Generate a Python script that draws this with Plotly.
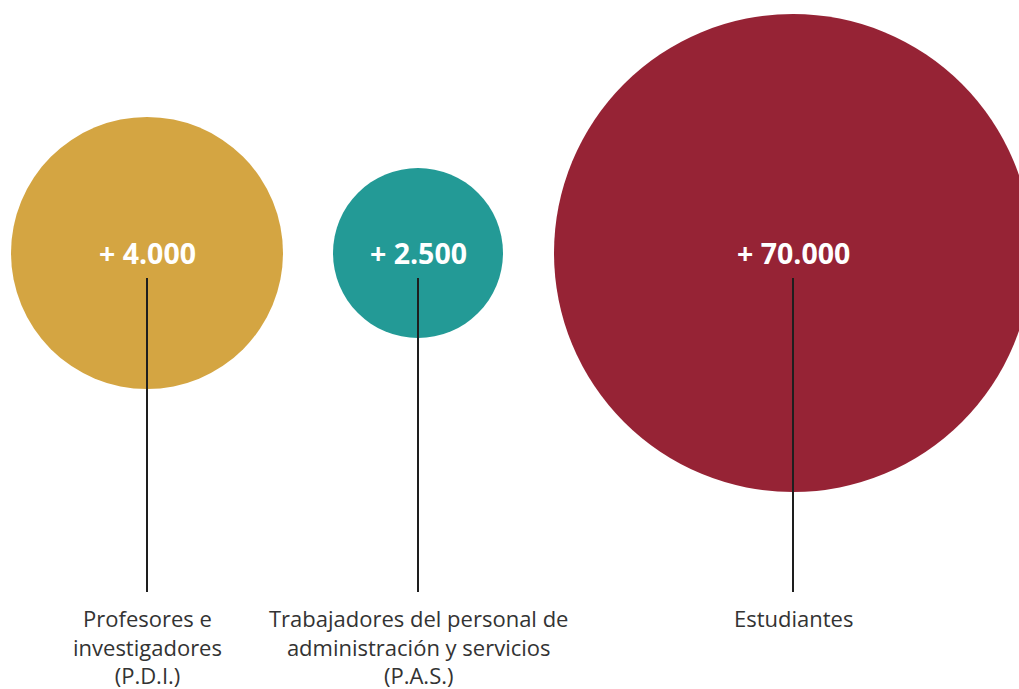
import plotly.graph_objects as go

# ---- data ----
categories = ["Profesores e<br>investigadores<br>(P.D.I.)",
              "Trabajadores del personal de<br>administración y servicios<br>(P.A.S.)",
              "Estudiantes"]
values = [4000, 2500, 70000]
value_labels = ["+ 4.000", "+ 2.500", "+ 70.000"]

# ---- style / layout ----
colors = ["#D4A542", "#239A96", "#962335"]
x_pos = [147, 418, 793]          # horizontal placement (pixels)
diam = [272, 170, 478]           # bubble diameters (pixels)
cy = 253
line_top, line_bottom = 278, 592
label_y = 601

W, H = 1019, 689
fig = go.Figure()

fig.add_trace(go.Scatter(
    x=x_pos, y=[cy] * 3, mode="markers",
    marker=dict(size=diam, color=colors, line=dict(width=0), opacity=1),
    customdata=values, hoverinfo="skip", cliponaxis=False, showlegend=False))

for x in x_pos:
    fig.add_trace(go.Scatter(
        x=[x, x], y=[line_top, line_bottom], mode="lines",
        line=dict(color="#1e1e1e", width=2), hoverinfo="skip", showlegend=False))

for x, t in zip(x_pos, value_labels):
    fig.add_annotation(x=x, y=cy, text="<b>" + t + "</b>", showarrow=False,
                       font=dict(family="Open Sans", size=28.5, color="white"),
                       xanchor="center", yanchor="middle")

for x, t in zip(x_pos, categories):
    fig.add_annotation(x=x, y=label_y, text=t, showarrow=False,
                       font=dict(family="Open Sans", size=22, color="#333333"),
                       xanchor="center", yanchor="top", align="center")

fig.update_layout(
    width=W, height=H, margin=dict(l=0, r=0, t=0, b=0),
    paper_bgcolor="white", plot_bgcolor="white",
    xaxis=dict(range=[0, W], visible=False, fixedrange=True),
    yaxis=dict(range=[H, 0], visible=False, fixedrange=True),
)

fig.write_html(
    "out.html",
    config={"displayModeBar": False},
    post_script="document.body.style.margin='0';document.body.style.overflow='hidden';",
)
